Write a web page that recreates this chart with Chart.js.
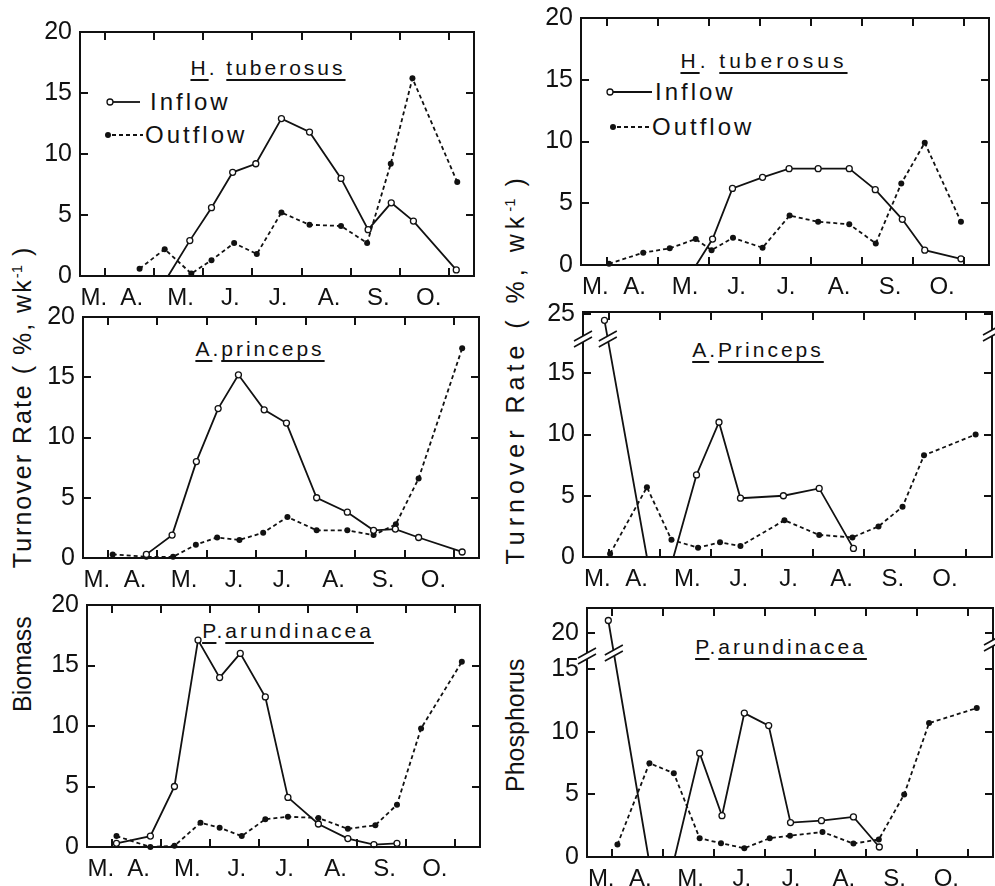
<!DOCTYPE html>
<html>
<head>
<meta charset="utf-8">
<script src="https://cdn.jsdelivr.net/npm/chart.js@4.4.0/dist/chart.umd.min.js"></script>
<style>
  body { margin:0; background:#fff; width:995px; height:886px; position:relative; overflow:hidden;
         font-family:"Liberation Sans", Arial, sans-serif; color:#111; }
  canvas { position:absolute; }
  .t { position:absolute; white-space:pre; line-height:1; }
  .title { font-size:21px; letter-spacing:3px; transform:translateX(-50%); }
  .title u { text-decoration-thickness:1.5px; text-underline-offset:4px; }
  .leg { font-size:24px; letter-spacing:3px; }
  .ytitle { font-size:25px; transform-origin:0 0; transform:rotate(-90deg); }
  .sup { font-size:15px; vertical-align:9px; letter-spacing:0; }
  svg { position:absolute; overflow:visible; }
  .box { position:absolute; box-sizing:border-box; border:2px solid #111; pointer-events:none; }
  .tk { position:absolute; background:#111; pointer-events:none; }
</style>
</head>
<body>

<div class="t title" style="left:268px;top:57px"><u>H</u>. <u>tuberosus</u></div>
<div class="t title" style="left:764px;top:50px;letter-spacing:4px"><u>H</u>. <u>tuberosus</u></div>
<div class="t title" style="left:260px;top:338px"><u>A</u>.<u>princeps</u></div>
<div class="t title" style="left:758px;top:339px"><u>A</u>.<u>Princeps</u></div>
<div class="t title" style="left:288px;top:620px"><u>P</u>.<u>arundinacea</u></div>
<div class="t title" style="left:781px;top:636px"><u>P</u>.<u>arundinacea</u></div>

<svg width="1" height="1" style="left:0;top:0">
  <line x1="113" y1="102" x2="140" y2="102" stroke="#111" stroke-width="1.8"/>
  <circle cx="110" cy="102" r="3" fill="#fff" stroke="#111" stroke-width="1.3"/>
  <line x1="112" y1="135" x2="143" y2="135" stroke="#111" stroke-width="1.8" stroke-dasharray="4 3"/>
  <circle cx="108" cy="135" r="3" fill="#111"/>
  <line x1="613" y1="92" x2="652" y2="92" stroke="#111" stroke-width="1.8"/>
  <circle cx="610" cy="92" r="3" fill="#fff" stroke="#111" stroke-width="1.3"/>
  <line x1="617" y1="127" x2="650" y2="127" stroke="#111" stroke-width="1.8" stroke-dasharray="4 3"/>
  <circle cx="613" cy="127" r="3" fill="#111"/>
</svg>
<div class="t leg" style="left:150px;top:90px">Inflow</div>
<div class="t leg" style="left:145px;top:123px">Outflow</div>
<div class="t leg" style="left:655px;top:80px">Inflow</div>
<div class="t leg" style="left:652px;top:115px">Outflow</div>

<div class="t ytitle" style="left:9px;top:712px">Biomass<span style="margin-left:48px;letter-spacing:2px">Turnover Rate ( %, wk<span class="sup">-1</span> )</span></div>
<div class="t ytitle" style="left:502px;top:792px">Phosphorus<span style="margin-left:94px;letter-spacing:5px">Turnover Rate ( %, wk<span class="sup">-1</span> )</span></div>

<script>
// month axis: ticks mark month edges, labels sit between them
const monthLabels = ['M.', 'A.', 'M.', 'J.', 'J.', 'A.', 'S.', 'O.'];
const monthLabelPos = [0.78, 1.55, 2.54, 3.55, 4.52, 5.56, 6.56, 7.58];
const monthEdges = [1, 2, 3, 4, 5, 6, 7, 8];
const yTickVals = [0, 5, 10, 15, 20];
const yTickVals25 = [0, 5, 10, 15, 25];

// H. tuberosus - biomass
const htBioInX  = [2.29, 2.73, 3.17, 3.6, 4.07, 4.59, 5.16, 5.8, 6.35, 6.82, 7.27, 8.14];
const htBioInY  = [0, 2.9, 5.6, 8.5, 9.2, 12.9, 11.8, 8.0, 3.8, 6.0, 4.5, 0.5];
const htBioOutX = [1.71, 2.22, 2.76, 3.17, 3.63, 4.09, 4.59, 5.16, 5.8, 6.33, 6.81, 7.25, 8.16];
const htBioOutY = [0.6, 2.2, 0.2, 1.3, 2.7, 1.8, 5.2, 4.2, 4.1, 2.7, 9.2, 16.2, 7.7];

// H. tuberosus - phosphorus
const htPInX  = [2.76, 3.08, 3.47, 4.06, 4.58, 5.15, 5.76, 6.27, 6.8, 7.24, 7.95];
const htPInY  = [0, 2.1, 6.2, 7.1, 7.8, 7.8, 7.8, 6.1, 3.7, 1.2, 0.5];
const htPOutX = [1.05, 1.72, 2.24, 2.75, 3.06, 3.48, 4.06, 4.59, 5.15, 5.76, 6.28, 6.78, 7.24, 7.95];
const htPOutY = [0.1, 1.0, 1.35, 2.1, 1.2, 2.2, 1.4, 4.0, 3.5, 3.3, 1.75, 6.6, 9.9, 3.5];

// A. princeps - biomass
const apBioInX  = [1.78, 2.3, 2.79, 3.23, 3.64, 4.16, 4.61, 5.22, 5.84, 6.37, 6.81, 7.28, 8.16];
const apBioInY  = [0.3, 1.9, 8.0, 12.4, 15.2, 12.3, 11.2, 5.0, 3.8, 2.3, 2.4, 1.7, 0.5];
const apBioOutX = [1.1, 1.78, 2.32, 2.78, 3.21, 3.66, 4.14, 4.63, 5.22, 5.84, 6.37, 6.82, 7.28, 8.16];
const apBioOutY = [0.3, 0.1, 0.1, 1.1, 1.7, 1.5, 2.1, 3.4, 2.3, 2.3, 1.9, 2.8, 6.6, 17.4];

// A. princeps - phosphorus (null = gap in the line)
const apPInX  = [0.92, 1.75, 2.0, 2.27, 2.72, 3.16, 3.58, 4.42, 5.12, 5.79];
const apPInY  = [24, 0, null, 0, 6.7, 11.0, 4.8, 5.0, 5.6, 0.7];
const apPOutX = [1.03, 1.75, 2.23, 2.75, 3.18, 3.58, 4.44, 5.12, 5.77, 6.28, 6.75, 7.17, 8.18];
const apPOutY = [0.27, 5.7, 1.4, 0.76, 1.2, 0.9, 3.0, 1.8, 1.6, 2.5, 4.1, 8.3, 10.0];

// P. arundinacea - biomass
const paBioInX  = [1.1, 1.79, 2.28, 2.76, 3.2, 3.62, 4.13, 4.59, 5.21, 5.81, 6.34, 6.81];
const paBioInY  = [0.3, 0.9, 5.0, 17.1, 14.0, 16.0, 12.4, 4.1, 1.9, 0.7, 0.2, 0.3];
const paBioOutX = [1.1, 1.79, 2.28, 2.81, 3.2, 3.65, 4.13, 4.59, 5.21, 5.81, 6.37, 6.81, 7.3, 8.13];
const paBioOutY = [0.9, 0, 0.1, 2.0, 1.6, 0.9, 2.3, 2.5, 2.4, 1.5, 1.8, 3.5, 9.8, 15.3];

// P. arundinacea - phosphorus
const paPInX  = [0.92, 1.71, 1.95, 2.23, 2.72, 3.16, 3.6, 4.08, 4.51, 5.12, 5.75, 6.26];
const paPInY  = [21, 0, null, 0, 8.3, 3.3, 11.5, 10.5, 2.75, 2.9, 3.2, 0.8];
const paPOutX = [1.1, 1.73, 2.21, 2.72, 3.14, 3.6, 4.1, 4.5, 5.14, 5.75, 6.25, 6.75, 7.24, 8.18];
const paPOutY = [1.0, 7.5, 6.7, 1.5, 1.1, 0.7, 1.5, 1.7, 2.0, 1.07, 1.4, 5.0, 10.7, 11.9];

const FONT = '"Liberation Sans", Arial, sans-serif';
const INK = '#111';
const PADL = 70, PADT = 23, PADR = 10, PADB = 45;

// broken y axis: values between lo and hi are squeezed into lo..at
function brkMap(b, v) {
    if (!b || v == null) return v;
    if (v <= b.lo) return v;
    if (v >= b.hi) return b.at + (v - b.hi);
    return b.lo + (v - b.lo) * (b.at - b.lo) / (b.hi - b.lo);
}

function slash(ctx, cx, cy) {
    ctx.save();
    ctx.translate(cx, cy);
    ctx.fillStyle = '#fff';
    ctx.beginPath();
    ctx.moveTo(-9, 2); ctx.lineTo(9, -8); ctx.lineTo(9, -2); ctx.lineTo(-9, 8);
    ctx.closePath();
    ctx.fill();
    ctx.strokeStyle = INK;
    ctx.lineWidth = 1.6;
    ctx.beginPath();
    ctx.moveTo(-9, 2); ctx.lineTo(9, -8);
    ctx.moveTo(-9, 8); ctx.lineTo(9, -2);
    ctx.stroke();
    ctx.restore();
}

// "//" on the first inflow segment where the y axis is broken
const breakPlugin = {
    id: 'breaks',
    afterDraw(chart) {
        const b = chart.$brk;
        if (!b) return;
        const { ctx, scales: { y } } = chart;
        const pts = chart.getDatasetMeta(0).data;
        const yb = y.getPixelForValue(b.markLine);
        const t = (yb - pts[0].y) / (pts[1].y - pts[0].y);
        slash(ctx, pts[0].x + t * (pts[1].x - pts[0].x), yb);
    }
};

const panels = [
    { rect: [80, 32, 474, 276],  inX: htBioInX, inY: htBioInY, outX: htBioOutX, outY: htBioOutY, ticks: yTickVals, max: 20 },
    { rect: [581, 18, 989, 265], inX: htPInX, inY: htPInY, outX: htPOutX, outY: htPOutY, ticks: yTickVals, max: 20 },
    { rect: [83, 317, 479, 558], inX: apBioInX, inY: apBioInY, outX: apBioOutX, outY: apBioOutY, ticks: yTickVals, max: 20 },
    { rect: [583, 312, 992, 557], inX: apPInX, inY: apPInY, outX: apPOutX, outY: apPOutY, ticks: yTickVals25, max: 20,
      brk: { lo: 15, hi: 25, at: 19.8, mark: 17.8, markR: 18.3, markLine: 17.8 } },
    { rect: [87, 605, 480, 847], inX: paBioInX, inY: paBioInY, outX: paBioOutX, outY: paBioOutY, ticks: yTickVals, max: 20 },
    { rect: [587, 608, 993, 857], inX: paPInX, inY: paPInY, outX: paPOutX, outY: paPOutY, ticks: yTickVals, max: 19.9,
      brk: { lo: 15, hi: 20, at: 17.9, mark: 16.1, markR: 17.1, markLine: 16.3 } }
];

const radiusFn = c => (c.raw && c.raw.y === 0) ? 0 : 3;

function buildChart(p, canvasHeight) {
    const [L, T, R, B] = p.rect;
    const cv = document.createElement('canvas');
    cv.width = R - L + PADL + PADR;
    cv.height = canvasHeight;
    cv.style.left = (L - PADL) + 'px';
    cv.style.top = (T - PADT) + 'px';
    document.body.appendChild(cv);

    const pts = (xs, ys) => xs.map((x, i) => ({ x: x, y: brkMap(p.brk, ys[i]) }));

    const chart = new Chart(cv.getContext('2d'), {
        type: 'line',
        data: {
            datasets: [{
                label: 'Inflow',
                data: pts(p.inX, p.inY),
                borderColor: INK,
                borderWidth: 1.8,
                pointRadius: radiusFn,
                pointBackgroundColor: '#fff',
                pointBorderColor: INK,
                pointBorderWidth: 1.3,
                tension: 0,
                spanGaps: false
            }, {
                label: 'Outflow',
                data: pts(p.outX, p.outY),
                borderColor: INK,
                borderWidth: 1.8,
                borderDash: [4, 3],
                pointRadius: 3,
                pointBackgroundColor: INK,
                pointBorderColor: INK,
                pointBorderWidth: 0,
                tension: 0
            }]
        },
        options: {
            responsive: false,
            maintainAspectRatio: false,
            animation: false,
            devicePixelRatio: 1,
            clip: false,
            layout: { padding: { top: 10, right: PADR, left: 0, bottom: 0 } },
            plugins: {
                legend: { display: false },
                tooltip: { enabled: false }
            },
            scales: {
                x: {
                    type: 'linear',
                    min: 0.5,
                    max: 8.5,
                    grid: { display: false, drawTicks: false },
                    border: { display: false },
                    afterBuildTicks: ax => { ax.ticks = monthLabelPos.map(v => ({ value: v })); },
                    afterFit: s => { s.height = PADB; },
                    ticks: {
                        autoSkip: false,
                        maxRotation: 0,
                        padding: 8,
                        color: INK,
                        font: { family: FONT, size: 24 },
                        callback: (v, i) => monthLabels[i]
                    }
                },
                y: {
                    type: 'linear',
                    min: 0,
                    max: p.max,
                    grid: { display: false, drawTicks: false },
                    border: { display: false },
                    afterBuildTicks: ax => { ax.ticks = p.ticks.map(v => ({ value: brkMap(p.brk, v) })); },
                    afterFit: s => { s.width = PADL; },
                    ticks: {
                        padding: 8,
                        color: INK,
                        font: { family: FONT, size: 25 },
                        callback: (v, i) => p.ticks[i]
                    }
                }
            }
        },
        plugins: [breakPlugin]
    });
    chart.$brk = p.brk;
    if (p.brk) chart.draw();
    return { chart, cv };
}

function addDiv(cls, l, t, w, h) {
    const d = document.createElement('div');
    d.className = cls;
    d.style.left = l + 'px'; d.style.top = t + 'px';
    d.style.width = w + 'px'; d.style.height = h + 'px';
    document.body.appendChild(d);
    return d;
}

// axis break on the frame: white gap with two slanted strokes
function addBreak(cx, cy) {
    const c = document.createElement('canvas');
    c.width = 24; c.height = 24;
    c.style.left = (cx - 12) + 'px'; c.style.top = (cy - 12) + 'px';
    document.body.appendChild(c);
    slash(c.getContext('2d'), 12, 12);
}

panels.forEach(p => {
    const [L, T, R, B] = p.rect;
    const h = B - T + PADT + PADB;
    let { chart, cv } = buildChart(p, h);
    // rebuild once if the plot height came out different from the wanted one
    const dh = (B - T) - (chart.chartArea.bottom - chart.chartArea.top);
    if (Math.abs(dh) > 0.5) {
        chart.destroy();
        cv.remove();
        ({ chart, cv } = buildChart(p, h + Math.round(dh)));
    }
    const ca = chart.chartArea;
    const offX = L - ca.left, offY = T - ca.top;
    cv.style.left = offX + 'px';
    cv.style.top = offY + 'px';

    // frame and inward ticks, placed from the chart's own scales
    const x = chart.scales.x, y = chart.scales.y;
    const fl = ca.left + offX, ft = ca.top + offY, fr = ca.right + offX, fb = ca.bottom + offY;
    addDiv('box', fl - 1, ft - 1, fr - fl + 2, fb - ft + 2);
    p.ticks.forEach(v => {
        const py = y.getPixelForValue(brkMap(p.brk, v)) + offY;
        addDiv('tk', fl, py - 1, 8, 2);
        addDiv('tk', fr - 8, py - 1, 8, 2);
    });
    monthEdges.forEach(v => {
        const px = x.getPixelForValue(v) + offX;
        addDiv('tk', px - 1, ft, 2, 8);
        addDiv('tk', px - 1, fb - 8, 2, 8);
    });
    if (p.brk) {
        addBreak(fl, y.getPixelForValue(p.brk.mark) + offY);
        addBreak(fr, y.getPixelForValue(p.brk.markR) + offY);
    }
});
</script>
</body>
</html>
